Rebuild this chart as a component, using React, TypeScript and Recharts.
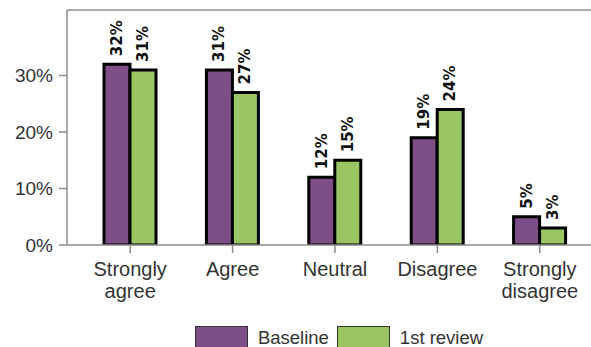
import React from 'react';
import {
  Bar,
  BarChart,
  LabelList,
  Legend,
  ReferenceLine,
  XAxis,
  YAxis,
} from 'recharts';

const categories = ['Strongly agree', 'Agree', 'Neutral', 'Disagree', 'Strongly disagree'];
const baseline = [32, 31, 12, 19, 5];
const firstReview = [31, 27, 15, 24, 3];
const seriesNames = ['Baseline', '1st review'];
const yTicks = [0, 10, 20, 30];
const yMax = 41.6;

const PURPLE = '#7e4e88';
const GREEN = '#9bc563';
const AXIS = '#8c8c8c';
const TEXT = '#333';
const FONT = '"Liberation Sans", Arial, sans-serif';

const data = categories.map((name, i) => ({
  name,
  baseline: baseline[i],
  review: firstReview[i],
}));

const renderBarLabel = (props: any) => {
  const { x, y, width, value } = props;
  const cx = Number(x) + Number(width) / 2;
  const ty = Number(y) - 8;
  return (
    <text
      x={cx}
      y={ty}
      transform={`rotate(-90, ${cx}, ${ty})`}
      textAnchor='start'
      dominantBaseline='central'
      fontFamily='"DejaVu Sans", sans-serif'
      fontWeight='bold'
      fontSize={15}
      fill='#111'
    >
      {value}%
    </text>
  );
};

const CategoryTick = (props: any) => {
  const { x, y, payload } = props;
  const words = String(payload.value).split(' ');
  return (
    <text x={x} y={y} textAnchor='middle' fontFamily={FONT} fontSize={20} fill={TEXT}>
      {words.map((w, i) => (
        <tspan key={w} x={x} dy={i === 0 ? 21 : 22}>
          {w}
        </tspan>
      ))}
    </text>
  );
};

const LegendContent = (props: any) => {
  const items = [...(props.payload || [])].sort(
    (a: any, b: any) => seriesNames.indexOf(a.value) - seriesNames.indexOf(b.value)
  );
  return (
    <div style={{ display: 'flex', justifyContent: 'center', alignItems: 'center' }}>
      {items.map((p: any) => (
        <div key={p.value} style={{ display: 'flex', alignItems: 'center', marginRight: 8 }}>
          <span
            style={{
              display: 'inline-block',
              width: 51,
              height: 22,
              background: p.color,
              border: '1px solid #333',
              marginRight: 10,
            }}
          />
          <span style={{ fontFamily: FONT, fontSize: 18.5, lineHeight: '20px', color: TEXT }}>
            {p.value}
          </span>
        </div>
      ))}
    </div>
  );
};

export default function App() {
  return (
    <div
      style={{
        position: 'fixed',
        left: 0,
        top: 0,
        width: 591,
        height: 347,
        overflow: 'hidden',
        background: '#fff',
      }}
    >
      <BarChart
        width={603}
        height={347}
        data={data}
        barGap={0}
        barSize={26}
        margin={{ top: 10, right: 0, left: 0, bottom: 28 }}
      >
        <XAxis
          dataKey='name'
          interval={0}
          height={50}
          padding={{ left: 12, right: 12 }}
          axisLine={{ stroke: AXIS, strokeWidth: 1.5 }}
          tickLine={{ stroke: AXIS, strokeWidth: 1.5 }}
          tickSize={8}
          tick={<CategoryTick />}
        />
        <YAxis
          width={67}
          domain={[0, yMax]}
          ticks={yTicks}
          allowDataOverflow
          tickFormatter={(v: number) => `${v}%`}
          axisLine={{ stroke: AXIS, strokeWidth: 1.5 }}
          tickLine={{ stroke: AXIS, strokeWidth: 1.5 }}
          tickSize={8}
          tickMargin={6}
          tick={{ fontFamily: FONT, fontSize: 19, fill: TEXT }}
        />
        <ReferenceLine y={yMax} stroke={AXIS} strokeWidth={1.5} />
        <Legend
          content={<LegendContent />}
          wrapperStyle={{ position: 'absolute', left: 75, width: 536, top: 326 }}
        />
        <Bar
          dataKey='baseline'
          name={seriesNames[0]}
          fill={PURPLE}
          stroke='#000'
          strokeWidth={3}
          isAnimationActive={false}
        >
          <LabelList dataKey='baseline' content={renderBarLabel} />
        </Bar>
        <Bar
          dataKey='review'
          name={seriesNames[1]}
          fill={GREEN}
          stroke='#000'
          strokeWidth={3}
          isAnimationActive={false}
        >
          <LabelList dataKey='review' content={renderBarLabel} />
        </Bar>
      </BarChart>
    </div>
  );
}
